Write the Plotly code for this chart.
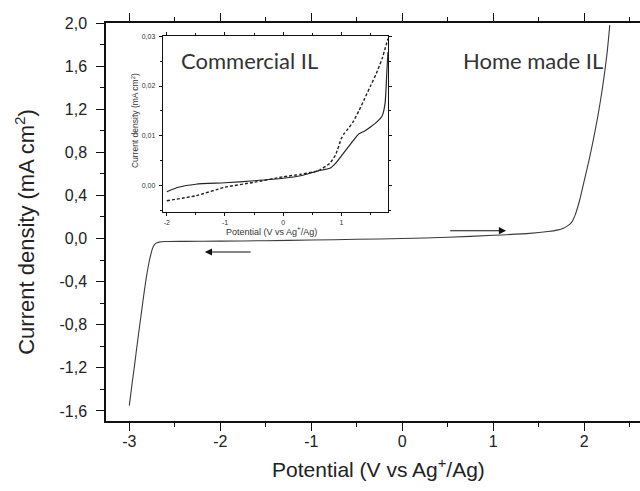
import plotly.graph_objects as go

# ---- main curve (Home made IL) ----
main_x = [-3.00, -2.97, -2.94, -2.91, -2.88, -2.85, -2.82, -2.79, -2.77, -2.74, -2.71, -2.67,
          -2.60, -2.40, -2.00, -1.50, -1.00, -0.50, 0.00, 0.50, 1.00, 1.40, 1.60, 1.70, 1.77,
          1.82, 1.86, 1.90, 1.95, 2.00, 2.05, 2.10, 2.15, 2.20, 2.25, 2.28]
main_y = [-1.55, -1.35, -1.16, -0.96, -0.77, -0.58, -0.40, -0.25, -0.17, -0.08, -0.045, -0.033,
          -0.028, -0.026, -0.024, -0.020, -0.014, -0.007, 0.000, 0.012, 0.030, 0.048, 0.065, 0.078, 0.095,
          0.12, 0.15, 0.22, 0.36, 0.54, 0.72, 0.92, 1.14, 1.40, 1.72, 1.98]

# ---- inset curves (Commercial IL) ----
inset_x = [-2.0, -1.8, -1.5, -1.0, -0.5, 0.0, 0.3, 0.6, 0.8, 0.9, 1.0, 1.1, 1.2, 1.3, 1.4, 1.5,
           1.6, 1.7, 1.75, 1.78, 1.80]
inset_solid = [-0.0012, -0.0003, 0.0003, 0.0006, 0.0010, 0.0015, 0.0020, 0.0030, 0.0035, 0.0045,
               0.0060, 0.0075, 0.0090, 0.0104, 0.0110, 0.0118, 0.0127, 0.0140, 0.0165, 0.0225, 0.0268]
inset_dash_x = [-2.0, -1.5, -1.0, -0.5, 0.0, 0.3, 0.6, 0.8, 0.9, 1.0, 1.05, 1.1, 1.2, 1.3, 1.4,
                1.5, 1.6, 1.7, 1.8]
inset_dash = [-0.0030, -0.0020, -0.0003, 0.0007, 0.0018, 0.0023, 0.0030, 0.0045, 0.0062, 0.0095,
              0.0105, 0.0112, 0.0128, 0.0150, 0.0175, 0.0200, 0.0225, 0.0255, 0.0295]

# ---- ticks ----
x_tickvals = [-3, -2, -1, 0, 1, 2]
x_ticktext = ["-3", "-2", "-1", "0", "1", "2"]
y_tickvals = [2.0, 1.6, 1.2, 0.8, 0.4, 0.0, -0.4, -0.8, -1.2, -1.6]
y_ticktext = ["2,0", "1,6", "1,2", "0,8", "0,4", "0,0", "-0,4", "-0,8", "-1,2", "-1,6"]
ix_tickvals = [-2, -1, 0, 1]
ix_ticktext = ["-2", "-1", "0", "1"]
iy_tickvals = [0.0, 0.01, 0.02, 0.03]
iy_ticktext = ["0,00", "0,01", "0,02", "0,03"]

# ---- arrows (tail x, head x, y) ----
arrow_left = (-1.65, -2.17, -0.125)
arrow_right = (0.51, 1.14, 0.073)

FONT = "Liberation Sans, Arial, sans-serif"
LABEL_FONT = "Lato, Open Sans, sans-serif"

fig = go.Figure()
fig.add_trace(go.Scatter(x=main_x, y=main_y, mode="lines",
                         line=dict(color="#3a3a3a", width=1.1, shape="spline", smoothing=0.6),
                         xaxis="x", yaxis="y", showlegend=False, hoverinfo="skip"))
fig.add_trace(go.Scatter(x=inset_x, y=inset_solid, mode="lines",
                         line=dict(color="#222", width=1.2, shape="spline", smoothing=0.6),
                         xaxis="x2", yaxis="y2", showlegend=False, hoverinfo="skip"))
fig.add_trace(go.Scatter(x=inset_dash_x, y=inset_dash, mode="lines",
                         line=dict(color="#222", width=1.4, dash="3px,2px", shape="spline", smoothing=0.5),
                         xaxis="x2", yaxis="y2", showlegend=False, hoverinfo="skip"))

axis_common = dict(showgrid=False, zeroline=False, showline=True, linecolor="#111",
                   ticks="outside", tickcolor="#111", automargin=False)

fig.update_layout(
    width=640, height=491,
    margin=dict(l=106, r=0, t=23, b=70, autoexpand=False),
    paper_bgcolor="white", plot_bgcolor="white",
    font=dict(family=FONT, color="#222"),
    xaxis=dict(**axis_common, range=[-3.256, 2.612], linewidth=1.5, mirror="ticks",
               tickvals=x_tickvals, ticktext=x_ticktext, ticklen=8, tickwidth=1.2,
               tickfont=dict(size=16, family=FONT, color="#222"), ticklabelstandoff=-3,
               minor=dict(dtick=0.5, tick0=0, ticks="outside", ticklen=4, tickcolor="#111", tickwidth=1.2)),
    yaxis=dict(**axis_common, range=[-1.693, 2.0], linewidth=1.5,
               tickvals=y_tickvals, ticktext=y_ticktext, ticklen=8, tickwidth=1.2,
               tickfont=dict(size=16, family=FONT, color="#222"), ticklabelstandoff=6,
               minor=dict(dtick=0.2, tick0=0, ticks="outside", ticklen=4, tickcolor="#111", tickwidth=1.2)),
    xaxis2=dict(**axis_common, domain=[0.1062, 0.528], anchor="y2", range=[-2.07, 1.80],
                linewidth=1, mirror="ticks", tickvals=ix_tickvals, ticktext=ix_ticktext,
                ticklen=3, tickwidth=1, tickfont=dict(size=7, family=FONT, color="#333"),
                ticklabelstandoff=1,
                minor=dict(dtick=0.5, tick0=0, ticks="outside", ticklen=2, tickcolor="#111")),
    yaxis2=dict(**axis_common, domain=[0.5259, 0.967], anchor="x2", range=[-0.0052, 0.030],
                linewidth=1, mirror="ticks", tickvals=iy_tickvals, ticktext=iy_ticktext,
                ticklen=3, tickwidth=1, tickfont=dict(size=7, family=FONT, color="#333"),
                ticklabelstandoff=2,
                minor=dict(dtick=0.005, tick0=0, ticks="outside", ticklen=2, tickcolor="#111")),
)

ann = []
# axis titles
ann.append(dict(text="Current density (mA cm<sup>2</sup>)", xref="paper", yref="paper",
                x=-0.152, y=0.475, xanchor="center", yanchor="middle", textangle=-90,
                showarrow=False, font=dict(size=22, family=FONT, color="#222")))
ann.append(dict(text="Potential (V vs Ag<sup>+</sup>/Ag)", xref="paper", yref="paper",
                x=0.510, y=-0.118, xanchor="center", yanchor="middle", showarrow=False,
                font=dict(size=21, family=FONT, color="#222")))
ann.append(dict(text="Current density (mA cm<sup>2</sup>)", xref="paper", yref="paper",
                x=0.0543, y=0.756, xanchor="center", yanchor="middle", textangle=-90,
                showarrow=False, font=dict(size=8.5, family=FONT, color="#333")))
ann.append(dict(text="Potential (V vs Ag<sup>+</sup>/Ag)", xref="paper", yref="paper",
                x=0.309, y=0.478, xanchor="center", yanchor="middle", showarrow=False,
                font=dict(size=9, family=FONT, color="#333")))
# labels
ann.append(dict(text="Commercial IL", xref="x", yref="y", x=-1.677, y=1.652, showarrow=False,
                xanchor="center", yanchor="middle",
                font=dict(size=22, family=LABEL_FONT, color="#333")))
ann.append(dict(text="Home made IL", xref="x", yref="y", x=1.433, y=1.652, showarrow=False,
                xanchor="center", yanchor="middle",
                font=dict(size=22, family=LABEL_FONT, color="#333")))
# arrows
for tail, head, yy in (arrow_left, arrow_right):
    ann.append(dict(x=head, y=yy, ax=tail, ay=yy, xref="x", yref="y", axref="x", ayref="y",
                    text="", showarrow=True, arrowhead=2, arrowsize=1.3, arrowwidth=1.1,
                    arrowcolor="#111"))
fig.update_layout(annotations=ann)

fig.write_html("out.html", config={"displayModeBar": False},
               post_script="document.body.style.margin='0';document.body.style.overflow='hidden';")
